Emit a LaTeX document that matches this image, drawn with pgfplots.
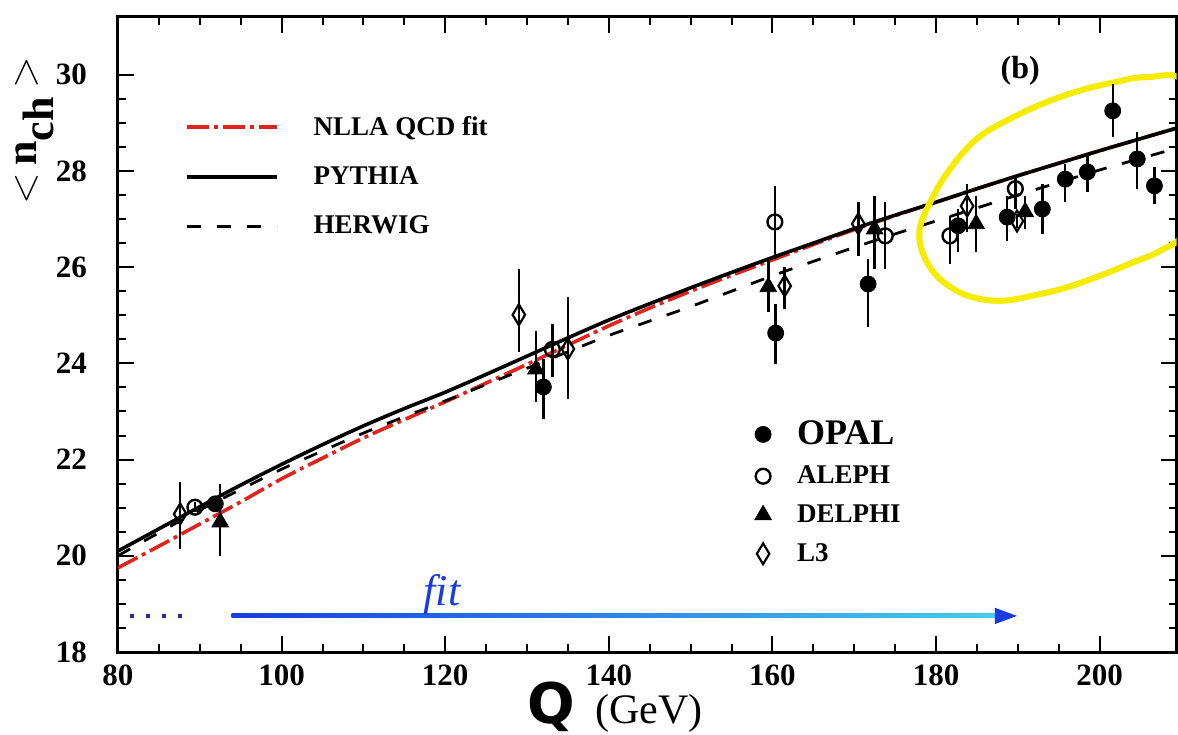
\documentclass[border=0pt]{standalone}
\usepackage{fontspec}
\setmainfont{Liberation Serif}
\newfontfamily\qfont{DejaVu Sans}
\usepackage{pgfplots}
\pgfplotsset{compat=1.18}
\usepackage{pgfplotstable}

\definecolor{nllared}{RGB}{225,35,30}
\definecolor{ellyellow}{RGB}{245,236,0}
\definecolor{fitblueA}{RGB}{25,60,225}
\definecolor{fitblueB}{RGB}{35,120,235}
\definecolor{fitcyan}{RGB}{70,205,240}
\definecolor{fitdark}{RGB}{40,50,150}

\pgfplotstableread{
x y ep em
91.9 21.08 0.10 0.10
132.0 23.51 0.58 0.67
160.4 24.63 0.60 0.64
171.7 25.65 0.52 0.89
182.7 26.86 0.35 0.54
188.7 27.04 0.44 0.50
193.0 27.21 0.52 0.52
195.8 27.83 0.32 0.47
198.5 27.98 0.33 0.42
201.6 29.25 0.56 0.54
204.6 28.25 0.56 0.62
206.7 27.69 0.39 0.38
}\opal

\pgfplotstableread{
x y ep em
89.4 21.01 0.10 0.10
133.1 24.29 0.53 0.57
160.3 26.94 0.75 0.77
173.8 26.65 0.71 0.69
181.7 26.65 0.41 0.58
189.7 27.63 0.27 0.42
}\aleph

\pgfplotstableread{
x y ep em
92.5 20.70 0.79 0.70
131.1 23.88 0.79 0.68
159.5 25.59 0.58 0.52
172.5 26.79 0.69 0.83
184.9 26.90 0.58 0.58
190.9 27.15 0.33 0.36
}\delphi

\pgfplotstableread{
x y ep em
87.6 20.87 0.66 0.73
129.0 25.01 0.95 0.77
135.0 24.30 1.08 1.04
161.5 25.61 0.39 0.48
170.5 26.90 0.46 0.67
183.8 27.27 0.46 0.54
189.9 26.96 0.15 0.15
}\lthree

\pgfplotsset{
  commonaxis/.style={scale only axis, width=529.25pt, height=317.5pt,
    xmin=80, xmax=209.4, ymin=18, ymax=31.2},
  markleg/.style={legend image code/.code={%
      \path[draw=none, fill=none] (-5pt,-3pt) rectangle (5pt,3pt);
      \draw[##1] plot coordinates {(0pt,0pt)};}},
  errstyle/.style={error bars/y dir=both, error bars/y explicit,
      error bars/error mark=none, error bars/error bar style={black, line width=1.2pt}},
}

\begin{document}
\begin{tikzpicture}
\begin{axis}[commonaxis,
  axis line style={black, line width=1.5pt},
  xtick={80,100,...,200}, ytick={18,20,...,30},
  minor x tick num=3, minor y tick num=3,
  tick style={black, line width=1pt},
  major tick length=8pt, minor tick length=4pt,
  tick align=inside, xtick pos=both, ytick pos=both,
  /pgf/number format/assume math mode=true,
  tick label style={font=\fontsize{15.5}{15.5}\selectfont\bfseries},
  yticklabel style={xshift=-12pt},
  xticklabel style={inner sep=1pt, yshift=-5.2pt},
  xlabel={{\qfont\bfseries\fontsize{28}{28}\selectfont Q}\hspace{10pt}{\fontsize{21}{21}\selectfont (GeV)}},
  xlabel style={at={(axis description cs:0.4695,0)}, anchor=base, yshift=-35.5pt, inner sep=0pt},
  ylabel={{\fontsize{22}{22}\selectfont $<$\,\textbf{n}$_{\textbf{ch}}$\,$>$}},
  ylabel style={at={(axis description cs:-0.0790,0.8205)}, anchor=center},
  legend cell align=left,
  legend style={at={(rel axis cs:0.0633,0.8441)}, anchor=north west,
    draw=none, fill=none, inner sep=0pt, outer sep=0pt,
    row sep=14.25pt, column sep=17.5pt,
    font=\fontsize{13.5}{13.5}\selectfont\bfseries,
    nodes={inner sep=0pt, outer sep=0pt}},
  legend image code/.code={\draw[#1] (0pt,0pt) -- (45pt,0pt);},
]
\addplot[nllared, line width=1.8pt, dash pattern=on 11pt off 2.5pt on 2pt off 2.5pt, smooth]
 coordinates {(80,19.75)(85,20.2)(90,20.66)(95,21.12)(100,21.6)(105,22.03)(110,22.45)(115,22.83)(120,23.2)(125,23.59)(130,23.98)(135,24.38)(140,24.78)(145,25.15)(150,25.5)(155,25.83)(160,26.15)(165,26.47)(170,26.78)(175,27.07)(180,27.35)(185,27.63)(190,27.9)(195,28.16)(200,28.42)(205,28.67)(210,28.92)};
\addlegendentry{NLLA QCD fit}
\addplot[black, line width=1.8pt, smooth]
 coordinates {(80,20.1)(85,20.56)(90,21.02)(95,21.47)(100,21.9)(105,22.31)(110,22.7)(115,23.06)(120,23.4)(125,23.77)(130,24.15)(135,24.53)(140,24.9)(145,25.24)(150,25.57)(155,25.89)(160,26.2)(165,26.5)(170,26.8)(175,27.08)(180,27.35)(185,27.63)(190,27.9)(195,28.16)(200,28.42)(205,28.67)(210,28.92)};
\addlegendentry{PYTHIA}
\addplot[black, line width=1.4pt, dash pattern=on 7pt off 8pt, smooth]
 coordinates {(80,20.0)(85,20.48)(90,20.95)(95,21.38)(100,21.8)(105,22.18)(110,22.55)(115,22.89)(120,23.22)(125,23.56)(130,23.9)(135,24.24)(140,24.58)(145,24.88)(150,25.18)(155,25.5)(160,25.82)(165,26.12)(170,26.41)(175,26.69)(180,26.96)(185,27.23)(190,27.5)(195,27.76)(200,28.02)(205,28.26)(210,28.5)};
\addlegendentry{HERWIG}

% hand-drawn annotations
\draw[ellyellow, line width=3pt] plot[smooth cycle, tension=0.6] coordinates {
 (axis cs:178.0,26.79) (axis cs:178.5,26.24) (axis cs:180.5,25.75) (axis cs:183.8,25.41)
 (axis cs:187.8,25.30) (axis cs:191.9,25.41) (axis cs:196.0,25.58) (axis cs:200.0,25.82)
 (axis cs:204.1,26.10) (axis cs:207.4,26.34) (axis cs:210.5,26.75) (axis cs:212.5,28.0)
 (axis cs:210.5,29.80) (axis cs:205.8,29.95) (axis cs:201.7,29.84) (axis cs:197.6,29.67)
 (axis cs:193.5,29.43) (axis cs:189.0,29.08) (axis cs:185.0,28.67) (axis cs:181.7,28.04)
 (axis cs:179.5,27.42)};
\draw[fitdark, line width=1.6pt, dash pattern=on 2pt off 6pt] (axis cs:81.5,18.75) -- (axis cs:88,18.75);
\shade[left color=fitblueA, middle color=fitblueB, right color=fitcyan]
 (axis cs:93.9,18.71) rectangle (axis cs:187.5,18.79);
\fill[fitblueA] (axis cs:187.2,18.92) -- (axis cs:189.9,18.75) -- (axis cs:187.2,18.58) -- cycle;
\node[fitblueA] at (axis cs:119.6,19.2) {\fontsize{22}{22}\selectfont\itshape fit};
\node at (axis cs:190.3,30.08) {\fontsize{16}{16}\selectfont\bfseries (b)};

\coordinate (SW) at (rel axis cs:0,0);
\coordinate (NE) at (rel axis cs:1,1);
\end{axis}

\begin{axis}[commonaxis, hide axis,
  legend cell align=left,
  legend style={at={(rel axis cs:0.600,0.3638)}, anchor=north west,
    draw=none, fill=none, inner sep=0pt, outer sep=0pt,
    row sep=9pt, column sep=12pt,
    font=\fontsize{13.5}{13.5}\selectfont\bfseries,
    nodes={inner sep=0pt, outer sep=0pt}},
]
\addplot[only marks, mark=*, mark size=4pt, black, markleg, errstyle]
  table[x=x, y=y, y error plus=ep, y error minus=em] {\opal};
\addlegendentry{\fontsize{18}{18}\selectfont\rule[-2pt]{0pt}{2pt}OPAL}
\addplot[only marks, mark=o, mark size=3.7pt, black, mark options={fill=white, line width=1.2pt}, markleg, errstyle]
  table[x=x, y=y, y error plus=ep, y error minus=em] {\aleph};
\addlegendentry{ALEPH}
\addplot[only marks, mark=triangle*, mark size=4.8pt, black, markleg, errstyle]
  table[x=x, y=y, y error plus=ep, y error minus=em] {\delphi};
\addlegendentry{DELPHI}
\addplot[only marks, mark=diamond, mark size=5.2pt, black, mark options={fill=white, line width=1.1pt, xscale=0.8}, markleg, errstyle]
  table[x=x, y=y, y error plus=ep, y error minus=em] {\lthree};
\addlegendentry{L3}
\end{axis}

\pgfresetboundingbox
\path[use as bounding box] ([xshift=-59pt,yshift=-41pt]SW) rectangle ([xshift=0.75pt,yshift=8.5pt]NE);
\end{tikzpicture}
\end{document}
